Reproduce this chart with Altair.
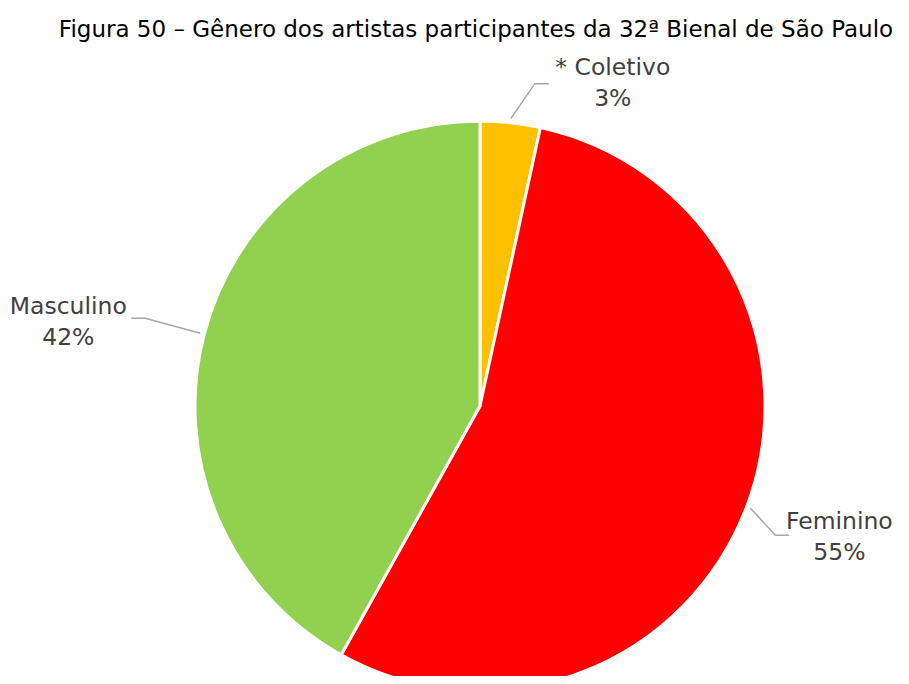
import math
import altair as alt
import pandas as pd

# ---- data ----
categories = ["* Coletivo", "Feminino", "Masculino"]
values = [3.4, 54.7, 41.9]
pct_labels = ["3%", "55%", "42%"]
colors = ["#FFC000", "#FF0000", "#92D050"]
title_text = "Figura 50 \u2013 G\u00eanero dos artistas participantes da 32\u00aa Bienal de S\u00e3o Paulo"

# ---- layout (chart pixel space) ----
W, H = 893, 668
CX, CY, R = 472, 398, 285
FONT = "DejaVu Sans"
# leader-line elbow offsets, tail length and label offsets per slice
elbow_off = {"* Coletivo": (24, -35), "Feminino": (25, 27), "Masculino": (-55, -15)}
tail_len = 14
label_dx = {"* Coletivo": 64, "Feminino": 50, "Masculino": -63}
label_dy = {"* Coletivo": 0, "Feminino": 2, "Masculino": 4}

df = pd.DataFrame({"cat": categories, "value": values, "idx": list(range(len(categories))),
                   "pct": pct_labels})

total = sum(values)
line_rows, label_rows = [], []
acc = 0.0
for c, v, p in zip(categories, values, pct_labels):
    mid = (acc + v / 2) / total * 2 * math.pi
    acc += v
    sx = CX + (R + 4) * math.sin(mid)
    sy = CY - (R + 4) * math.cos(mid)
    ex, ey = sx + elbow_off[c][0], sy + elbow_off[c][1]
    sgn = 1 if math.sin(mid) >= 0 else -1
    tx = ex + sgn * tail_len
    line_rows += [{"cat": c, "o": 0, "x": sx, "y": sy},
                  {"cat": c, "o": 1, "x": ex, "y": ey},
                  {"cat": c, "o": 2, "x": tx, "y": ey}]
    ly = ey + label_dy[c]
    label_rows.append({"cat": c, "x": tx + label_dx[c], "y": ly - 15.5, "t": c})
    label_rows.append({"cat": c, "x": tx + label_dx[c], "y": ly + 15.5, "t": p})

lines_df = pd.DataFrame(line_rows)
labels_df = pd.DataFrame(label_rows)

pie = alt.Chart(df).mark_arc(radius=R, stroke="white", strokeWidth=3).encode(
    theta=alt.Theta("value:Q", stack=True),
    order=alt.Order("idx:Q"),
    color=alt.Color("cat:N", scale=alt.Scale(domain=categories, range=colors), legend=None),
    x=alt.value(CX),
    y=alt.value(CY),
)

leaders = alt.Chart(lines_df).mark_line(color="#A6A6A6", strokeWidth=1.5).encode(
    x=alt.X("x:Q", scale=None),
    y=alt.Y("y:Q", scale=None),
    detail="cat:N",
    order="o:Q",
)

labels = alt.Chart(labels_df).mark_text(
    font=FONT, fontSize=23.5, color="#404040", align="center", baseline="middle"
).encode(
    x=alt.X("x:Q", scale=None),
    y=alt.Y("y:Q", scale=None),
    text="t:N",
)

title = alt.Chart(pd.DataFrame({"t": [title_text]})).mark_text(
    font=FONT, fontSize=23, color="#000000", align="center", baseline="middle"
).encode(x=alt.value(468), y=alt.value(22), text="t:N")

chart = alt.layer(pie, leaders, labels, title).properties(
    width=W, height=H, autosize=alt.AutoSizeParams(type="none"), padding=0
).configure_view(stroke=None)

chart.save("out.html", embed_options={"renderer": "svg", "actions": False})
